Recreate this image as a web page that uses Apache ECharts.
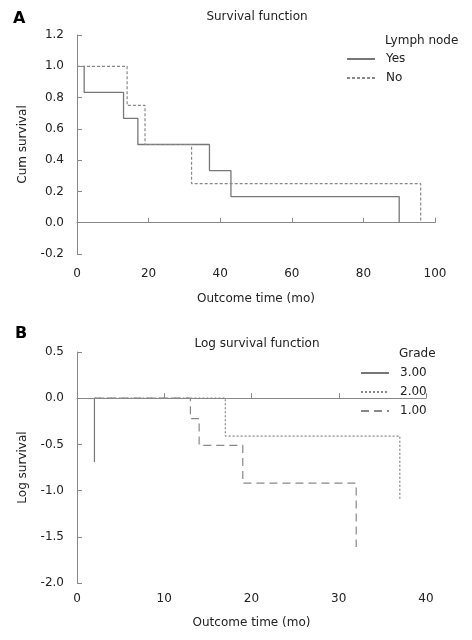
<!DOCTYPE html>
<html><head><meta charset="utf-8">
<script src="https://cdn.jsdelivr.net/npm/echarts@6/dist/echarts.min.js"></script>
<style>html,body{margin:0;padding:0;background:#fff}#c{width:472px;height:640px}</style>
</head><body><div id="c"></div>
<script>
// Panel A: Cum survival step points [time, survival]
const lymphYes = [[2,1.0],[2,0.833],[13,0.833],[13,0.667],[17,0.667],[17,0.5],[37,0.5],[37,0.333],[43,0.333],[43,0.167],[90,0.167],[90,0]];
const lymphNo = [[0,1.0],[14,1.0],[14,0.75],[19,0.75],[19,0.5],[32,0.5],[32,0.25],[96,0.25],[96,0]];
// Panel B: Log survival step points
const grade3 = [[2,0],[2,-0.69]];
const grade2 = [[2,0],[17,0],[17,-0.41],[37,-0.41],[37,-1.10]];
const grade1 = [[2,0],[13,0],[13,-0.22],[14,-0.22],[14,-0.51],[19,-0.51],[19,-0.92],[32,-0.92],[32,-1.61]];
const namesA = ['Yes','No'];
const namesB = ['3.00','2.00','1.00'];

const FONT = 'DejaVu Sans';
const FS = 12;
const axisLine = {lineStyle:{color:'#888',width:1}};
const tick = {inside:true,length:5,lineStyle:{color:'#888'}};
const lbl = {color:'#222',fontSize:FS,fontFamily:FONT};
const nameStyle = {color:'#222',fontSize:FS,fontFamily:FONT};
const tTxt = {fontSize:FS,fontWeight:'normal',color:'#222',fontFamily:FONT};

const chart = echarts.init(document.getElementById('c'));
chart.setOption({
  animation:false,
  textStyle:{fontFamily:FONT},
  title:[
    {text:'Survival function',left:257,top:11,padding:0,textAlign:'center',textStyle:tTxt},
    {text:'Log survival function',left:257,top:338,padding:0,textAlign:'center',textStyle:tTxt},
    {text:'A',left:13,top:11,padding:0,textStyle:{fontSize:16,fontWeight:'bold',color:'#000',fontFamily:FONT}},
    {text:'B',left:15,top:326,padding:0,textStyle:{fontSize:16,fontWeight:'bold',color:'#000',fontFamily:FONT}},
    {text:'Lymph node',left:385,top:35,padding:0,textStyle:tTxt},
    {text:'Grade',left:399,top:348,padding:0,textStyle:tTxt}
  ],
  legend:[
    {data:namesA,orient:'vertical',left:346,top:53,padding:0,itemWidth:28,itemHeight:12,itemGap:7,
     itemStyle:{opacity:0},textStyle:{fontSize:FS,color:'#222',fontFamily:FONT,padding:[0,0,0,6]}},
    {data:namesB,orient:'vertical',left:360,top:367,padding:0,itemWidth:28,itemHeight:12,itemGap:7,
     itemStyle:{opacity:0},textStyle:{fontSize:FS,color:'#222',fontFamily:FONT,padding:[0,0,0,6]}}
  ],
  grid:[
    {left:77,right:37,top:35,height:219},
    {left:77,right:46,top:352,height:231}
  ],
  xAxis:[
    {gridIndex:0,type:'value',min:0,max:100,interval:20,axisLine,axisTick:tick,splitLine:{show:false},axisLabel:{...lbl,margin:14},
     name:'Outcome time (mo)',nameLocation:'middle',nameGap:39,nameTextStyle:nameStyle},
    {gridIndex:1,type:'value',min:0,max:40,interval:10,axisLine,axisTick:tick,splitLine:{show:false},axisLabel:{...lbl,margin:10},
     name:'Outcome time (mo)',nameLocation:'middle',nameGap:34,nameTextStyle:nameStyle}
  ],
  yAxis:[
    {gridIndex:0,type:'value',min:-0.2,max:1.2,interval:0.2,axisLine:{show:true,...axisLine},axisTick:{show:true,...tick},splitLine:{show:false},
     axisLabel:{...lbl,margin:13,formatter:v=>v.toFixed(1)},name:'Cum survival',nameLocation:'middle',nameGap:48,nameTextStyle:nameStyle},
    {gridIndex:1,type:'value',min:-2,max:0.5,interval:0.5,axisLine:{show:true,...axisLine},axisTick:{show:true,...tick},splitLine:{show:false},
     axisLabel:{...lbl,margin:13,formatter:v=>v.toFixed(1)},name:'Log survival',nameLocation:'middle',nameGap:48,nameTextStyle:nameStyle}
  ],
  series:[
    {name:namesA[0],type:'line',xAxisIndex:0,yAxisIndex:0,data:lymphYes,symbol:'none',lineStyle:{color:'#777',width:1.3,type:'solid'},itemStyle:{color:'#777'}},
    {name:namesA[1],type:'line',xAxisIndex:0,yAxisIndex:0,data:lymphNo,symbol:'none',lineStyle:{color:'#888',width:1.2,type:[3,2]},itemStyle:{color:'#888'}},
    {name:namesB[0],type:'line',xAxisIndex:1,yAxisIndex:1,data:grade3,symbol:'none',lineStyle:{color:'#777',width:1.2,type:'solid'},itemStyle:{color:'#777'}},
    {name:namesB[1],type:'line',xAxisIndex:1,yAxisIndex:1,data:grade2,symbol:'none',lineStyle:{color:'#888',width:1.2,type:[2,2]},itemStyle:{color:'#888'}},
    {name:namesB[2],type:'line',xAxisIndex:1,yAxisIndex:1,data:grade1,symbol:'none',lineStyle:{color:'#888',width:1.2,type:[8,5]},itemStyle:{color:'#888'}}
  ]
});
</script></body></html>
